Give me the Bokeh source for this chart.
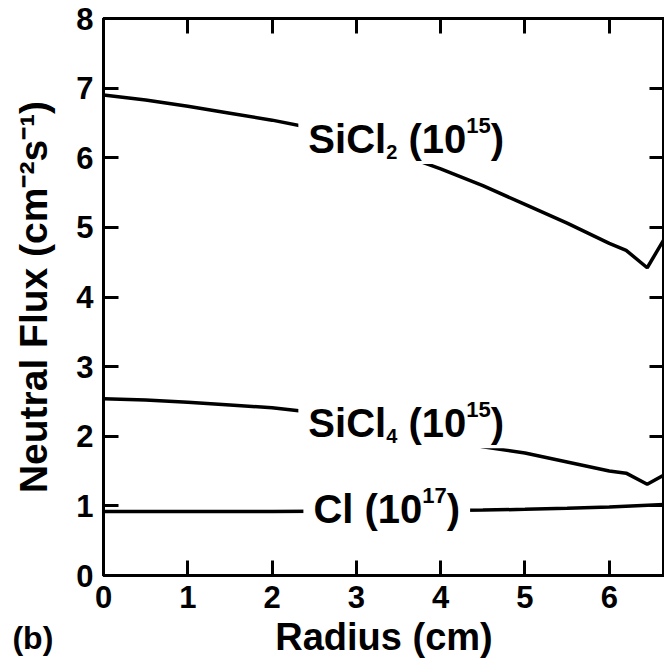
from bokeh.plotting import figure
from bokeh.models import Range1d, LinearAxis, FixedTicker
from bokeh.embed import file_html
from bokeh.resources import INLINE
from bokeh.core.properties import value

# ---------------- data ----------------
radius = [0, 0.5, 1, 1.5, 2, 2.5, 3, 3.5, 4, 4.5, 5, 5.5, 6, 6.2, 6.45, 6.66]
sicl2 = [6.90, 6.83, 6.74, 6.64, 6.54, 6.42, 6.25, 6.06, 5.84, 5.60, 5.33, 5.06, 4.77, 4.67, 4.42, 4.85]
sicl4 = [2.54, 2.52, 2.49, 2.45, 2.41, 2.34, 2.24, 2.12, 1.98, 1.85, 1.76, 1.63, 1.50, 1.47, 1.31, 1.45]
cl_radius = [0, 1, 2, 3, 4, 4.5, 5, 5.5, 6, 6.66]
cl = [0.92, 0.92, 0.92, 0.925, 0.935, 0.94, 0.95, 0.965, 0.985, 1.02]

x_ticks = [0, 1, 2, 3, 4, 5, 6]
y_ticks = [0, 1, 2, 3, 4, 5, 6, 7, 8]

# series labels: pieces (text, kind)  kind: n = normal, sub, sup, gap = space
label_sicl2 = [("SiCl", "n"), ("2", "sub"), (" ", "gap"), ("(10", "n"), ("15", "sup"), (")", "n")]
label_sicl4 = [("SiCl", "n"), ("4", "sub"), (" ", "gap"), ("(10", "n"), ("15", "sup"), (")", "n")]
label_cl = [("Cl", "n"), (" ", "gap"), ("(10", "n"), ("17", "sup"), (")", "n")]
y_title = "Neutral Flux (cm\u207b\u00b2s\u207b\u00b9)"
x_title = "Radius (cm)"
panel_tag = "(b)"

# ---------------- layout ----------------
FONT = "Liberation Sans"
W, H = 664, 660
BL, BR, BT, BB = 103, 0, 18, 85
XMAX, YMAX = 6.655, 8
fw, fh = W - BL - BR, H - BT - BB
pxx, pxy = fw / XMAX, fh / YMAX
TEXT_FIX = 11  # px: glyph text is drawn this much lower than its anchor

p = figure(width=W, height=H, x_range=Range1d(0, XMAX), y_range=Range1d(0, YMAX),
           output_backend="svg", toolbar_location=None,
           min_border_left=BL, min_border_right=BR, min_border_top=BT, min_border_bottom=BB)
p.grid.visible = False
p.outline_line_color = "black"
p.outline_line_width = 3
p.background_fill_color = "white"
p.border_fill_color = "white"

x_axis = p.below[0]
y_axis = p.left[0]


def style_axis(ax, ticks, labels=True):
    ax.ticker = FixedTicker(ticks=ticks)
    ax.axis_line_width = 3
    ax.axis_line_color = "black"
    ax.major_tick_line_width = 3
    ax.major_tick_line_color = "black"
    ax.major_tick_in = 15
    ax.major_tick_out = 0
    ax.minor_tick_line_color = None
    ax.major_label_text_font = FONT
    ax.major_label_text_font_style = "bold"
    if labels:
        ax.major_label_text_color = "black"
        ax.major_label_text_font_size = "31px"
        ax.major_label_standoff = 10
    else:
        ax.major_label_text_color = None
        ax.major_label_text_font_size = "1px"
        ax.major_label_standoff = 0


style_axis(x_axis, x_ticks)
style_axis(y_axis, y_ticks)

for ax, txt, size, standoff in ((x_axis, x_title, "38px", 5), (y_axis, y_title, "39px", 18)):
    ax.axis_label = txt
    ax.axis_label_text_font = FONT
    ax.axis_label_text_font_style = "bold"
    ax.axis_label_text_font_size = size
    ax.axis_label_text_color = "black"
    ax.axis_label_standoff = standoff

top_ax = LinearAxis()
right_ax = LinearAxis()
style_axis(top_ax, x_ticks, labels=False)
style_axis(right_ax, y_ticks, labels=False)
p.add_layout(top_ax, "above")
p.add_layout(right_ax, "right")

# ---------------- curves ----------------
LW = 3.5
p.line(radius, sicl2, line_color="black", line_width=LW)
p.line(radius, sicl4, line_color="black", line_width=LW)
p.line(cl_radius, cl, line_color="black", line_width=LW)

# ---------------- text helpers (Arial/Liberation Sans Bold advance widths) ----------------
AW = {'S': 667, 'i': 278, 'C': 722, 'l': 278, ' ': 278, '(': 333, ')': 333, '0': 556, '1': 556,
      '2': 556, '4': 556, '5': 556, '7': 556}


def tw(s, size):
    return sum(AW[c] for c in s) * size / 1000.0


SIZES = {"n": 40, "sub": 20, "sup": 22}
SHIFT = {"n": 0, "sub": -13, "sup": 14}


def series_label(pieces, x0, y0):
    cur = 0.0
    groups = {}
    for txt, kind in pieces:
        if kind == "gap":
            cur += tw(txt, SIZES["n"])
            continue
        g = groups.setdefault(kind, ([], [], []))
        g[0].append(x0 + cur / pxx)
        g[1].append(y0 + (SHIFT[kind] + TEXT_FIX) / pxy)
        g[2].append(txt)
        cur += tw(txt, SIZES[kind])
    pad = 10
    p.quad(left=[x0 - pad / pxx], right=[x0 + (cur + pad) / pxx],
           bottom=[y0 - 14 / pxy], top=[y0 + 33 / pxy],
           fill_color="white", line_color=None)
    for kind, (xs, ys, ts) in groups.items():
        p.text(x=xs, y=ys, text=ts, text_font=value(FONT),
               text_font_style="bold", text_font_size=value(f"{SIZES[kind]}px"),
               text_color="black", text_align="left", text_baseline="alphabetic")


series_label(label_sicl2, 2.43, 6.11)
series_label(label_sicl4, 2.43, 2.03)
series_label(label_cl, 2.49, 0.79)

# panel tag, outside the frame (overlay level)
p.text(x=[-1.08], y=[-1.05 + TEXT_FIX / pxy], text=[panel_tag], text_font=value(FONT),
       text_font_style="bold", text_font_size=value("32px"), text_color="black",
       text_align="left", text_baseline="alphabetic", level="overlay")

open("out.html", "w").write(file_html(p, INLINE))
